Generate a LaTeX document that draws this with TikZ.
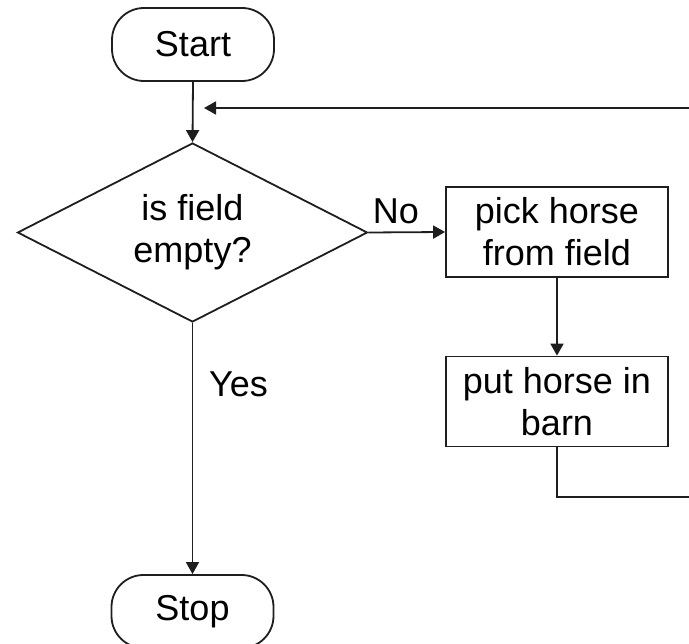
\documentclass[tikz,border=0pt]{standalone}
\usepackage{fontspec}
\setmainfont{Liberation Sans}
\usetikzlibrary{shapes.geometric,arrows.meta}
\definecolor{ink}{HTML}{1E1E1E}
\tikzset{
  base/.style={draw=ink, line width=1.8pt, align=center, inner sep=0pt, text=black,
    font=\fontsize{36}{42}\selectfont},
  term/.style={base, rectangle, rounded corners=32pt, minimum width=162pt, minimum height=73pt},
  proc/.style={base, rectangle, minimum width=222pt, minimum height=90pt},
  decide/.style={base, diamond, shape aspect=2.2, minimum width=350pt, minimum height=179pt},
  lbl/.style={font=\fontsize{36}{42}\selectfont, inner sep=0pt, text=black},
  conn/.style={draw=ink, line width=1.8pt},
  arr/.style={conn, -{Triangle[length=12pt,width=13pt]}},
}
\begin{document}
\begin{tikzpicture}[x=1pt,y=-1pt]
\useasboundingbox (0,0) rectangle (689,644);
\clip (0,0) rectangle (689,644);
\node[term] (start) at (193,44.5) {Start};
\node[decide] (dec) at (192.5,232.5) {is field\\empty?};
\node[proc] (pick) at (557,232) {pick horse\\from field};
\node[proc] (put) at (557,401.5) {put horse in\\barn};
\node[term] (stop) at (192.5,611.5) {Stop};
\node[lbl] (no) at (396,211) {No};
\node[lbl] (yes) at (238.5,384) {Yes};
\coordinate (fbin) at (689,108);
\coordinate (fbtip) at (204,108);
\coordinate (bend) at (557,497);
\coordinate (bout) at (689,497);
\draw[arr] (start.south) -- (dec.north);
\draw[arr] (fbin) -- (fbtip);
\draw[arr] (dec.east) -- (pick.west);
\draw[arr] (pick.south) -- (put.north);
\draw[arr] (dec.south) -- (stop.north);
\draw[conn] (put.south) -- (bend) -- (bout);
\end{tikzpicture}
\end{document}
